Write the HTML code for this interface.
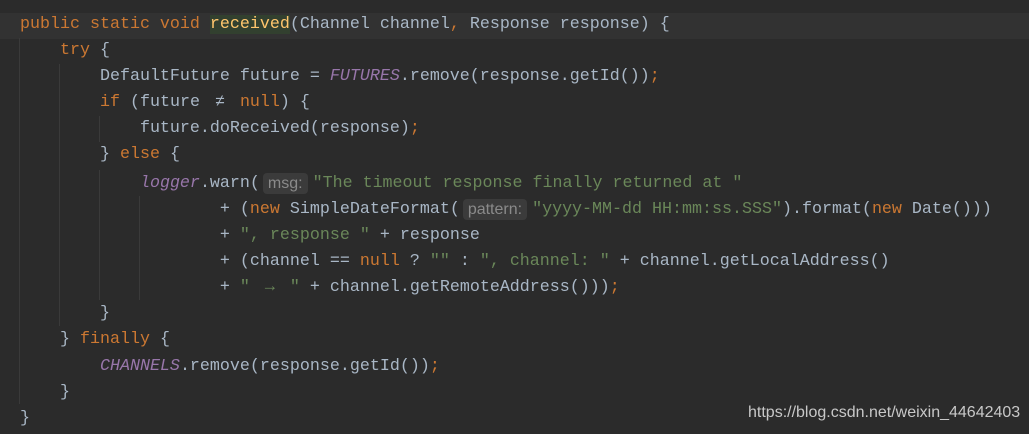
<!DOCTYPE html>
<html><head><meta charset="utf-8"><style>
html,body{margin:0;padding:0}
body{width:1029px;height:434px;background:#2b2b2b;position:relative;overflow:hidden;font-family:"Liberation Mono","DejaVu Sans Mono",monospace;font-size:16.67px;color:#a9b7c6}
.l{position:absolute;white-space:pre;height:22px;line-height:22px}
.k{color:#cc7832}.s{color:#6a8759}.f{color:#9876aa;font-style:italic}.m{color:#ffc66d;background:#32402f}
.h{display:inline-block;font-family:"Liberation Sans","DejaVu Sans",sans-serif;font-size:16px;color:#8a8a8a;background:#3b3b3b;border-radius:4px;padding:0 5px;line-height:21px;margin:0 5px 0 3px;vertical-align:top}
.lg{display:inline-block;width:20px;text-align:center}
.g{position:absolute;width:1px;background:#3a3a3a}
.hl{position:absolute;left:0;top:13px;width:1029px;height:26px;background:#323232}
.w{position:absolute;left:748px;top:404px;font-family:"Liberation Sans",sans-serif;font-size:16px;color:#c8c8c8}
</style></head><body>
<div class="hl"></div>
<div class="g" style="left:19px;top:38px;height:366px"></div>
<div class="g" style="left:59px;top:64px;height:262px"></div>
<div class="g" style="left:99px;top:116px;height:26px"></div>
<div class="g" style="left:99px;top:170px;height:130px"></div>
<div class="g" style="left:139px;top:196px;height:104px"></div>
<div class="l" style="left:20px;top:14px"><span class="k">public static void </span><span class="m">received</span>(Channel channel<span class="k">, </span>Response response) {</div>
<div class="l" style="left:20px;top:40px">    <span class="k">try </span>{</div>
<div class="l" style="left:20px;top:66px">        DefaultFuture future = <span class="f">FUTURES</span>.remove(response.getId())<span class="k">;</span></div>
<div class="l" style="left:20px;top:92px">        <span class="k">if </span>(future <span class="lg">≠</span> <span class="k">null</span>) {</div>
<div class="l" style="left:20px;top:118px">            future.doReceived(response)<span class="k">;</span></div>
<div class="l" style="left:20px;top:144px">        } <span class="k">else </span>{</div>
<div class="l" style="left:20px;top:173px">            <span class="f">logger</span>.warn(<span class="h">msg:</span><span class="s">"The timeout response finally returned at "</span></div>
<div class="l" style="left:20px;top:199px">                    + (<span class="k">new </span>SimpleDateFormat(<span class="h">pattern:</span><span class="s">"yyyy-MM-dd HH:mm:ss.SSS"</span>).format(<span class="k">new </span>Date()))</div>
<div class="l" style="left:20px;top:225px">                    + <span class="s">", response "</span> + response</div>
<div class="l" style="left:20px;top:251px">                    + (channel == <span class="k">null </span>? <span class="s">""</span> : <span class="s">", channel: "</span> + channel.getLocalAddress()</div>
<div class="l" style="left:20px;top:277px">                    + <span class="s">" <span class="lg">→</span> "</span> + channel.getRemoteAddress()))<span class="k">;</span></div>
<div class="l" style="left:20px;top:303px">        }</div>
<div class="l" style="left:20px;top:329px">    } <span class="k">finally </span>{</div>
<div class="l" style="left:20px;top:356px">        <span class="f">CHANNELS</span>.remove(response.getId())<span class="k">;</span></div>
<div class="l" style="left:20px;top:382px">    }</div>
<div class="l" style="left:20px;top:408px">}</div>
<div class="w">https://blog.csdn.net/weixin_44642403</div>
</body></html>
